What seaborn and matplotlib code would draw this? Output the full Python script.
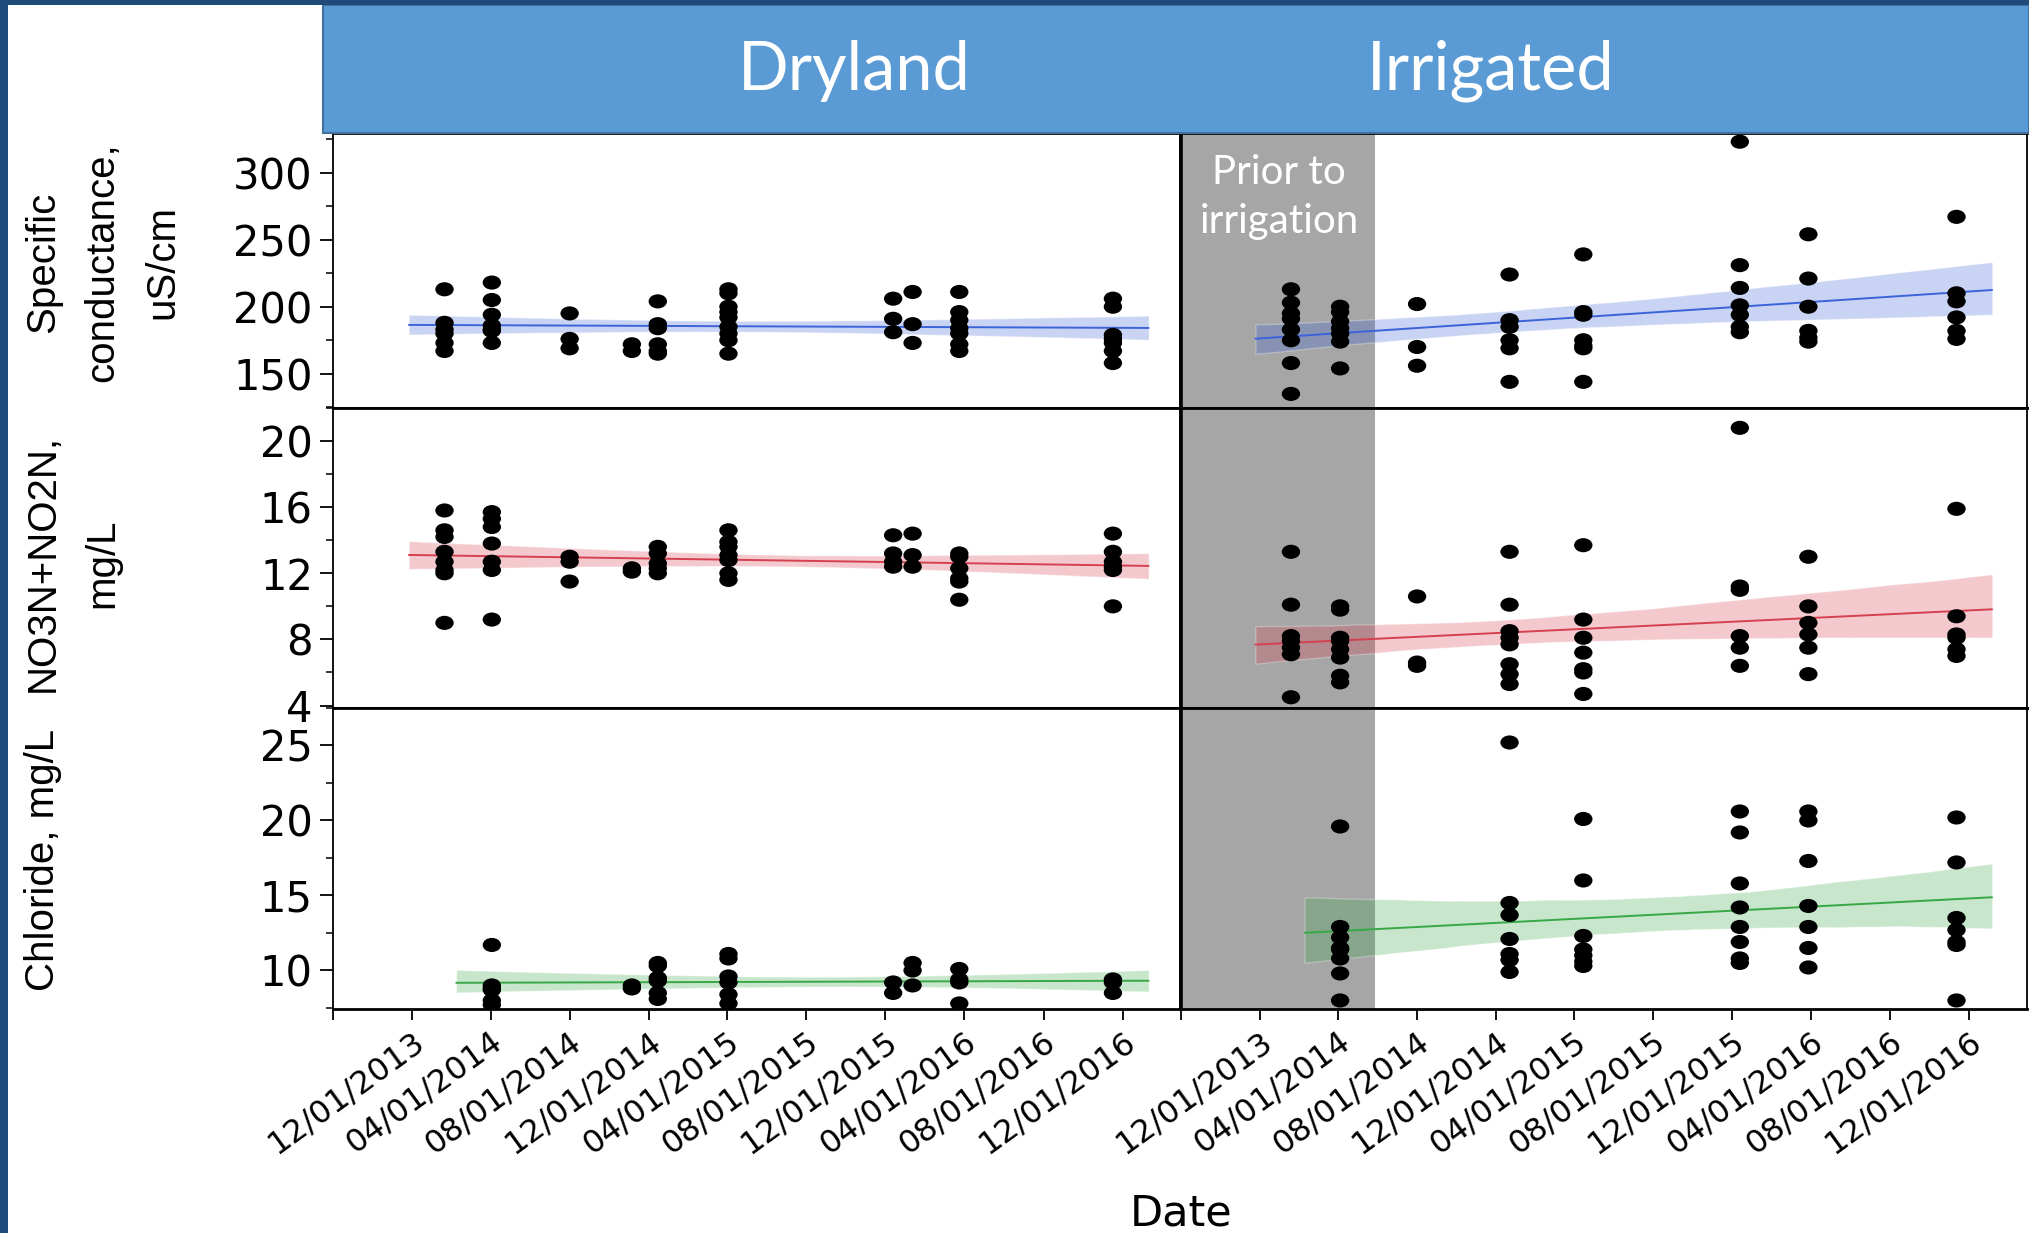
import numpy as np
import pandas as pd
import matplotlib
matplotlib.use("Agg")
import matplotlib.pyplot as plt
import matplotlib.dates as mdates
from matplotlib.patches import Rectangle
from matplotlib.path import Path
from matplotlib.transforms import Affine2D
from matplotlib.ticker import MultipleLocator
import seaborn as sns

# ------------------------- data -------------------------
panel_titles = ["Dryland", "Irrigated"]
row_labels = ["Specific\nconductance,\nuS/cm", "NO3N+NO2N,\nmg/L", "Chloride, mg/L"]
x_tick_dates = ["2013-08-01", "2013-12-01", "2014-04-01", "2014-08-01", "2014-12-01",
                "2015-04-01", "2015-08-01", "2015-12-01", "2016-04-01", "2016-08-01",
                "2016-12-01"]
x_tick_labels = ["", "12/01/2013", "04/01/2014", "08/01/2014", "12/01/2014",
                 "04/01/2015", "08/01/2015", "12/01/2015", "04/01/2016", "08/01/2016",
                 "12/01/2016"]
x_range = ["2013-08-01", "2017-03-01"]
irrigation_start = "2014-05-28"
shade_label = "Prior to\nirrigation"
x_label = "Date"

dry_dates = ["2014-01-20", "2014-04-03", "2014-08-01", "2014-11-05", "2014-12-15",
             "2015-04-03", "2015-12-13", "2016-01-12", "2016-03-24", "2016-11-16"]
dry_sc = [[213, 188, 183, 180, 173, 167],
          [218, 205, 194, 186, 183, 182, 173],
          [195, 176, 169],
          [172, 167],
          [204, 187, 184, 172, 167, 165],
          [213, 210, 200, 196, 192, 185, 180, 175, 165],
          [206, 191, 181],
          [211, 187, 173],
          [211, 196, 190, 184, 180, 172, 167],
          [206, 200, 179, 176, 173, 167, 158]]
dry_no3 = [[15.8, 14.6, 14.2, 13.3, 12.7, 12.2, 12.0, 9.0],
           [15.7, 15.3, 14.8, 13.8, 12.7, 12.2, 9.2],
           [13.0, 12.7, 11.5],
           [12.3, 12.1],
           [13.6, 13.2, 12.6, 12.3, 12.0],
           [14.6, 13.9, 13.6, 13.1, 12.8, 12.0, 11.6],
           [14.3, 13.2, 12.7, 12.4],
           [14.4, 13.1, 12.4],
           [13.2, 13.0, 12.3, 11.7, 11.5, 10.4],
           [14.4, 13.3, 12.7, 12.4, 12.2, 10.0]]
dry_cl_dates = ["2014-04-03", "2014-11-05", "2014-12-15", "2015-04-03",
                "2015-12-13", "2016-01-12", "2016-03-24", "2016-11-16"]
dry_cl = [[11.7, 9.0, 8.8, 8.7, 8.0, 7.7],
          [9.0, 8.8],
          [10.5, 10.3, 9.5, 9.3, 8.5, 8.1],
          [11.1, 10.8, 9.6, 9.2, 8.4, 7.8],
          [9.2, 8.5],
          [10.5, 10.0, 9.0],
          [10.1, 9.4, 9.2, 7.8],
          [9.4, 9.2, 8.5]]

irr_dates = ["2014-01-18", "2014-04-04", "2014-08-01", "2014-12-22", "2015-04-15",
             "2015-12-13", "2016-03-28", "2016-11-12"]
irr_sc = [[213, 203, 195, 191, 183, 175, 158, 135],
          [200, 196, 189, 184, 180, 174, 154],
          [202, 170, 156],
          [224, 190, 185, 175, 169, 144],
          [239, 196, 194, 175, 171, 169, 144],
          [323, 231, 214, 201, 194, 185, 181],
          [254, 221, 200, 182, 177, 174],
          [267, 210, 204, 192, 182, 176]]
irr_no3 = [[13.3, 10.1, 8.2, 7.9, 7.5, 7.1, 4.5],
           [10.0, 9.8, 8.1, 7.9, 7.4, 6.9, 5.8, 5.4],
           [10.6, 6.6, 6.4],
           [13.3, 10.1, 8.5, 8.1, 7.7, 6.5, 5.9, 5.3],
           [13.7, 9.2, 8.1, 7.2, 6.2, 6.0, 4.7],
           [20.8, 11.2, 11.0, 8.2, 7.5, 6.4],
           [13.0, 10.0, 9.0, 8.3, 7.5, 5.9],
           [15.9, 9.4, 8.3, 8.1, 7.4, 7.0]]
irr_cl_dates = ["2014-04-04", "2014-12-22", "2015-04-15", "2015-12-13",
                "2016-03-28", "2016-11-12"]
irr_cl = [[19.6, 12.9, 12.2, 11.5, 11.4, 10.8, 9.8, 8.0],
          [25.2, 14.5, 13.7, 12.1, 11.1, 10.7, 9.9],
          [20.1, 16.0, 12.3, 11.4, 11.0, 10.6, 10.3],
          [20.6, 19.2, 15.8, 14.2, 12.9, 11.9, 10.8, 10.5],
          [20.6, 20.0, 17.3, 14.3, 12.9, 11.5, 10.2],
          [20.2, 17.2, 13.5, 12.7, 11.9, 11.7, 8.0]]

variables = ["sc", "no3", "cl"]
sources = [
    ("Dryland", "sc", dry_dates, dry_sc),
    ("Dryland", "no3", dry_dates, dry_no3),
    ("Dryland", "cl", dry_cl_dates, dry_cl),
    ("Irrigated", "sc", irr_dates, irr_sc),
    ("Irrigated", "no3", irr_dates, irr_no3),
    ("Irrigated", "cl", irr_cl_dates, irr_cl),
]
records = []
for site, var, dates, vals in sources:
    for d, vs in zip(dates, vals):
        for v in vs:
            records.append((site, var, pd.Timestamp(d), v))
df = pd.DataFrame(records, columns=["site", "variable", "date", "value"])
df["num"] = mdates.date2num(df["date"])

# ------------------------- style / layout -------------------------
sns.set_theme(style="ticks")
plt.rcParams["font.family"] = ["Liberation Sans", "DejaVu Sans"]
tick_font = ["DejaVu Sans"]

W, H = 2029, 1233
fig = plt.figure(figsize=(W / 100, H / 100), dpi=100)
fig.patch.set_facecolor("white")


def box(x0, y0, x1, y1):
    return [x0 / W, 1 - y1 / H, (x1 - x0) / W, (y1 - y0) / H]


rows = [(133, 408), (408, 708), (708, 1009)]
cols = [(333, 1181), (1181, 2027)]
row_ylims = [(124.5, 329.5), (3.85, 22.0), (7.43, 27.5)]
row_major = [50, 4, 5]
row_minor = [25, 2, 2.5]
line_colors = ["#3D63D9", "#D5404F", "#38A846"]
# slightly wide dot, like the horizontally stretched original graphic
dot = Path.unit_circle().transformed(Affine2D().scale(1.3, 1.0))

xmin, xmax = mdates.date2num(pd.to_datetime(x_range))
irr_num = mdates.date2num(pd.Timestamp(irrigation_start))
tick_nums = mdates.date2num(pd.to_datetime(x_tick_dates))

for r in range(3):
    for c in range(2):
        ax = fig.add_axes(box(cols[c][0], rows[r][0], cols[c][1], rows[r][1]))
        ax.set_facecolor("white")
        sub = df[(df.site == panel_titles[c]) & (df.variable == variables[r])]
        if c == 1:
            ax.axvspan(xmin, irr_num, color="#A6A6A6", lw=0, zorder=0.5)
        lo, hi = sub.num.min(), sub.num.max()
        ax.set_xlim(lo - 55, hi + 55)
        n_before = len(ax.collections)
        sns.regplot(data=sub, x="num", y="value", ax=ax, scatter=False,
                    truncate=False, ci=95, n_boot=2000, seed=3,
                    color=line_colors[r], line_kws=dict(lw=1.4, zorder=2))
        for coll in ax.collections[n_before:]:
            coll.set_alpha(0.28)
            coll.set_zorder(1)
        sns.scatterplot(data=sub, x="num", y="value", ax=ax, color="black",
                        marker=dot, s=175, edgecolor="none", zorder=3, legend=False)
        ax.set_xlim(xmin, xmax)
        ax.set_ylim(*row_ylims[r])
        ax.set_xlabel("")
        ax.set_ylabel("")
        ax.yaxis.set_major_locator(MultipleLocator(row_major[r]))
        ax.yaxis.set_minor_locator(MultipleLocator(row_minor[r]))
        for side, sp in ax.spines.items():
            sp.set_visible(True)
            sp.set_color("black")
            sp.set_linewidth(2.0)
        if c == 0:
            ax.spines["left"].set_linewidth(1.3)
            ax.spines["right"].set_linewidth(2.6)
            ax.tick_params(axis="y", which="major", left=True, length=9.5, width=1.3,
                           labelsize=30, pad=5, colors="black")
            ax.tick_params(axis="y", which="minor", left=True, length=5, width=1.1,
                           colors="black")
            for lab in ax.get_yticklabels():
                lab.set_family(tick_font)
        else:
            ax.spines["right"].set_linewidth(1.3)
            ax.spines["left"].set_linewidth(2.6)
            ax.tick_params(axis="y", which="both", left=False, labelleft=False)
        if r == 2:
            ax.set_xticks(tick_nums)
            ax.set_xticklabels(x_tick_labels)
            ax.tick_params(axis="x", which="major", bottom=True, length=8, width=1.3,
                           labelsize=23, pad=4, colors="black")
            for lab in ax.get_xticklabels():
                lab.set_family(tick_font)
                lab.set_rotation(36)
                lab.set_ha("right")
                lab.set_va("top")
                lab.set_rotation_mode("anchor")
        else:
            ax.set_xticks([])
            ax.tick_params(axis="x", bottom=False, labelbottom=False)
        ax.tick_params(axis="x", which="minor", bottom=False)

# frame, header and labels
fig.patches.append(Rectangle((0, 0), 8 / W, 1, transform=fig.transFigure,
                             facecolor="#1F4B7A", edgecolor="none", zorder=10))
fig.patches.append(Rectangle((0, 1 - 5 / H), 1, 5 / H, transform=fig.transFigure,
                             facecolor="#1F4B7A", edgecolor="none", zorder=10))
fig.patches.append(Rectangle((323 / W, 1 - 133 / H), (W - 323) / W, (133 - 5) / H,
                             transform=fig.transFigure, facecolor="#5B9BD5",
                             edgecolor="#41719C", lw=1.5, zorder=9))
for title, xc in zip(panel_titles, [854, 1491]):
    fig.text(xc / W, 1 - 90 / H, title, family=["Lato", "DejaVu Sans"], fontsize=48,
             color="white", ha="center", va="baseline", zorder=11)

fig.text(1279 / W, 1 - 197 / H, shade_label, family=["Lato", "DejaVu Sans"],
         fontsize=29, color="white", ha="center", va="center",
         multialignment="center", linespacing=1.42, zorder=11)

for lab, yc in zip(row_labels, [262, 563, 860]):
    fig.text(24 / W, 1 - yc / H, lab, rotation=90, ha="left", va="center",
             multialignment="center", fontsize=29, linespacing=1.72, color="black")

fig.text(1181 / W, 1 - 1226 / H, x_label, family=tick_font, fontsize=31,
         ha="center", va="baseline", color="black")

fig.savefig("out.png", dpi=100, facecolor="white")
